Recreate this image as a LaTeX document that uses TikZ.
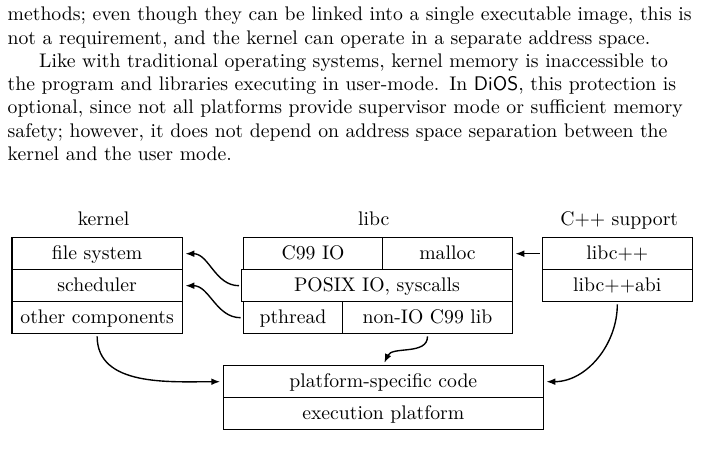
\documentclass[tikz,border=0pt]{standalone}
\usetikzlibrary{arrows.meta}
\begin{document}
\begin{tikzpicture}[x=0.5076pt,y=-0.5076pt,
  box/.style={draw,line width=0.75pt,inner sep=0pt,minimum height=16.24pt,
    text height=7.5pt,text depth=1.9pt,anchor=center},
  bw/.style={minimum width=#1*0.5076pt},
  lab/.style={anchor=base,inner sep=0pt},
  arr/.style={line width=0.7pt,-{Latex[length=4.5pt,width=3.4pt]},shorten <=1pt,shorten >=1.2pt}]
\fill[white] (0,0) rectangle (704,453);
\useasboundingbox (0,0) rectangle (704,453);
% paragraph
\node[anchor=base west,inner sep=0pt,text width=349.6pt,
  font=\fontsize{10}{11.83}\selectfont] (para) at (7.3,20.7)
  {\hyphenpenalty=10000\exhyphenpenalty=10000\parindent=16pt\noindent
  methods; even though they can be linked into a single executable image, this is\linebreak
  not a requirement, and the kernel can operate in a separate address space.\par
  Like with traditional operating systems, kernel memory is inaccessible to\linebreak
  the program and libraries executing in user-mode. In \textsf{DiOS}, this protection is\linebreak
  optional, since not all platforms provide supervisor mode or sufficient memory\linebreak
  safety; however, it does not depend on address space separation between the\linebreak
  kernel and the user mode.\par};
% labels
\node[lab] (klab) at (103.5,226) {kernel};
\node[lab] (llab) at (373.8,226) {libc};
\node[lab] (clab) at (619.2,226) {C++ support};
% kernel
\node[box,bw=170.3] (fs) at (97.15,253.7) {file system};
\node[box,bw=170.3] (sched) at (97.15,285.7) {scheduler};
\node[box,bw=170.3] (other) at (97.15,317.7) {other components};
% libc
\node[box,bw=139.4] (c99) at (313,253.7) {C99 IO};
\node[box,bw=129.6] (malloc) at (447.5,253.7) {malloc};
\node[box,bw=270.6] (posix) at (377,285.7) {POSIX IO, syscalls};
\node[box,bw=99.4] (pthread) at (293,317.7) {pthread};
\node[box,bw=169.6] (nonio) at (427.5,317.7) {non-IO C99 lib};
% C++
\node[box,bw=150] (cxx) at (617.3,253.7) {libc++};
\node[box,bw=150] (abi) at (617.3,285.7) {libc++abi};
% platform
\node[box,bw=320] (plat) at (383.3,381.7) {platform-specific code};
\node[box,bw=320] (exec) at (383.3,413.7) {execution platform};
% connectors
\draw[arr] (posix.west) to[out=180,in=0] (fs.east);
\draw[arr] (pthread.west) to[out=180,in=0] (sched.east);
\draw[arr] (cxx.west) -- (malloc.east);
\draw[arr] (other.south) to[out=-90,in=180] (plat.west);
\draw[arr] (abi.south) to[out=-90,in=0] (plat.east);
\draw[arr] (nonio.south) to[out=-90,in=65] (plat.north);
\end{tikzpicture}
\end{document}
